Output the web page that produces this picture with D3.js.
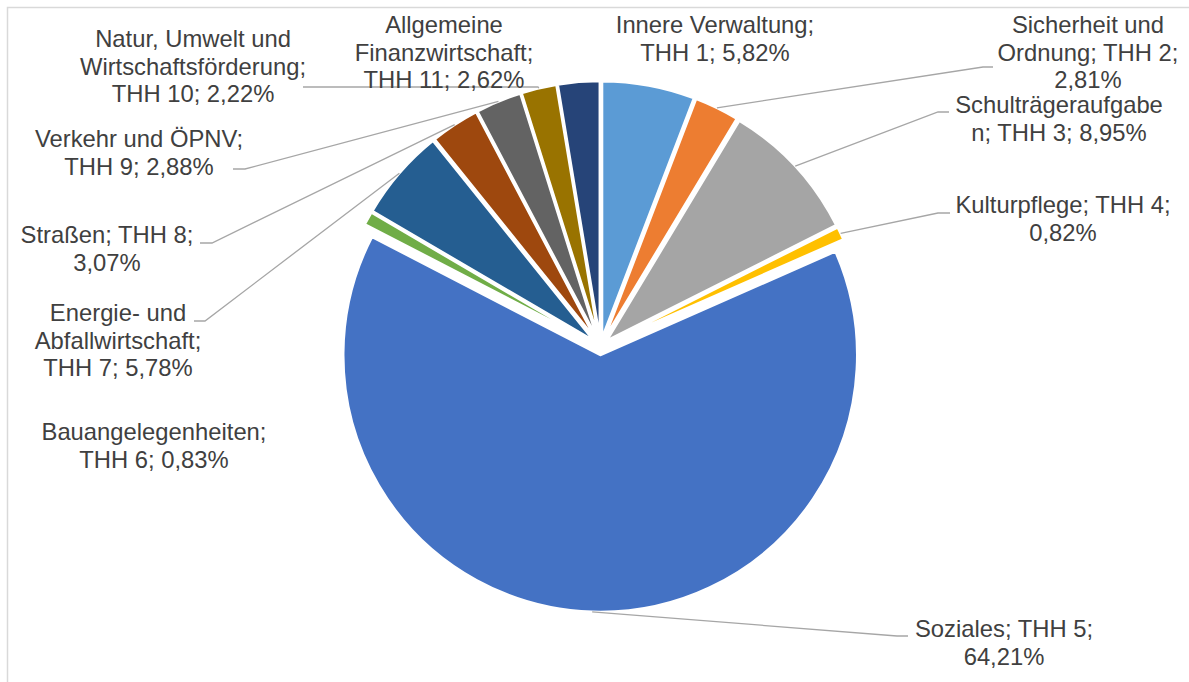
<!DOCTYPE html>
<html>
<head>
<meta charset="utf-8">
<script src="https://cdn.jsdelivr.net/npm/d3@7"></script>
<style>
  html, body { margin: 0; padding: 0; background: #fff; }
  svg { display: block; }
  text { font-family: "Liberation Sans", Arial, sans-serif; fill: #404040; }
</style>
</head>
<body>
<svg id="chart" width="1189" height="682"></svg>
<script>
// ---- data ----
const categories = ["Innere Verwaltung", "Sicherheit und Ordnung", "Schulträgeraufgaben", "Kulturpflege",
  "Soziales", "Bauangelegenheiten", "Energie- und Abfallwirtschaft", "Straßen", "Verkehr und ÖPNV",
  "Natur, Umwelt und Wirtschaftsförderung", "Allgemeine Finanzwirtschaft"];
const thh = ["THH 1", "THH 2", "THH 3", "THH 4", "THH 5", "THH 6", "THH 7", "THH 8", "THH 9", "THH 10", "THH 11"];
const values = [5.82, 2.81, 8.95, 0.82, 64.21, 0.83, 5.78, 3.07, 2.88, 2.22, 2.62];
const colors = ["#5B9BD5", "#ED7D31", "#A5A5A5", "#FFC000", "#4472C4", "#70AD47",
  "#255E91", "#9E480E", "#636363", "#997300", "#264478"];
// label line breaks as in the original
const labelLines = [
  ["Innere Verwaltung;", "THH 1; 5,82%"],
  ["Sicherheit und", "Ordnung; THH 2;", "2,81%"],
  ["Schulträgeraufgabe", "n; THH 3; 8,95%"],
  ["Kulturpflege; THH 4;", "0,82%"],
  ["Soziales; THH 5;", "64,21%"],
  ["Bauangelegenheiten;", "THH 6; 0,83%"],
  ["Energie- und", "Abfallwirtschaft;", "THH 7; 5,78%"],
  ["Straßen; THH 8;", "3,07%"],
  ["Verkehr und ÖPNV;", "THH 9; 2,88%"],
  ["Natur, Umwelt und", "Wirtschaftsförderung;", "THH 10; 2,22%"],
  ["Allgemeine", "Finanzwirtschaft;", "THH 11; 2,62%"]
];

// ---- layout ----
const W = 1189, H = 682;
const cx = 600.5, cy = 346.5, R = 257, explode = 8.5;
const fontSize = 23.8, lineH = 27.5;
// label block centre x, first baseline y, leader elbow end (side) ; null = no leader
const labelLayout = [
  {x: 715, y: 33, leader: null},
  {x: 1088, y: 33, leader: {ex: 983, ey: 67, hx: 993}},
  {x: 1059, y: 113, leader: {ex: 938, ey: 112, hx: 949}},
  {x: 1063, y: 213, leader: {ex: 938, ey: 213, hx: 950}},
  {x: 1004, y: 637, leader: {ex: 897, ey: 636, hx: 908}},
  {x: 154, y: 440, leader: null},
  {x: 118, y: 321, leader: {ex: 205, ey: 321, hx: 194}},
  {x: 107, y: 243, leader: {ex: 212, ey: 243, hx: 200}},
  {x: 139, y: 147, leader: {ex: 245, ey: 169, hx: 233}},
  {x: 193, y: 47, leader: {ex: 538, ey: 87, hx: 303}},
  {x: 444, y: 33, leader: null}
];

const svg = d3.select("#chart");

// chart area border
svg.append("rect")
  .attr("x", 7.5).attr("y", 7.5)
  .attr("width", W + 10).attr("height", H + 10)
  .attr("fill", "#fff").attr("stroke", "#d9d9d9").attr("stroke-width", 1.5);

const pie = d3.pie().sort(null).value(d => d).startAngle(0).endAngle(2 * Math.PI);
const arcs = pie(values);
const arc = d3.arc().innerRadius(0).outerRadius(R);

const g = svg.append("g").attr("transform", `translate(${cx},${cy})`);

g.selectAll("path.slice")
  .data(arcs)
  .join("path")
  .attr("class", "slice")
  .attr("d", arc)
  .attr("transform", d => {
    const m = (d.startAngle + d.endAngle) / 2;
    return `translate(${explode * Math.sin(m)},${-explode * Math.cos(m)})`;
  })
  .attr("fill", (d, i) => colors[i])
  .attr("stroke", "#fff")
  .attr("stroke-width", 2.5)
  .attr("stroke-linejoin", "round");

// leader lines
const leaderR = R + explode;
arcs.forEach((d, i) => {
  const L = labelLayout[i].leader;
  if (!L) return;
  const m = (d.startAngle + d.endAngle) / 2;
  const sx = cx + leaderR * Math.sin(m), sy = cy - leaderR * Math.cos(m);
  svg.append("polyline")
    .attr("points", `${sx},${sy} ${L.ex},${L.ey} ${L.hx},${L.ey}`)
    .attr("fill", "none")
    .attr("stroke", "#a6a6a6")
    .attr("stroke-width", 1.3);
});

// labels
labelLines.forEach((lines, i) => {
  const p = labelLayout[i];
  const t = svg.append("text")
    .attr("text-anchor", "middle")
    .attr("font-size", fontSize);
  lines.forEach((ln, k) => {
    t.append("tspan").attr("x", p.x).attr("y", p.y + k * lineH).text(ln);
  });
});
</script>
</body>
</html>
